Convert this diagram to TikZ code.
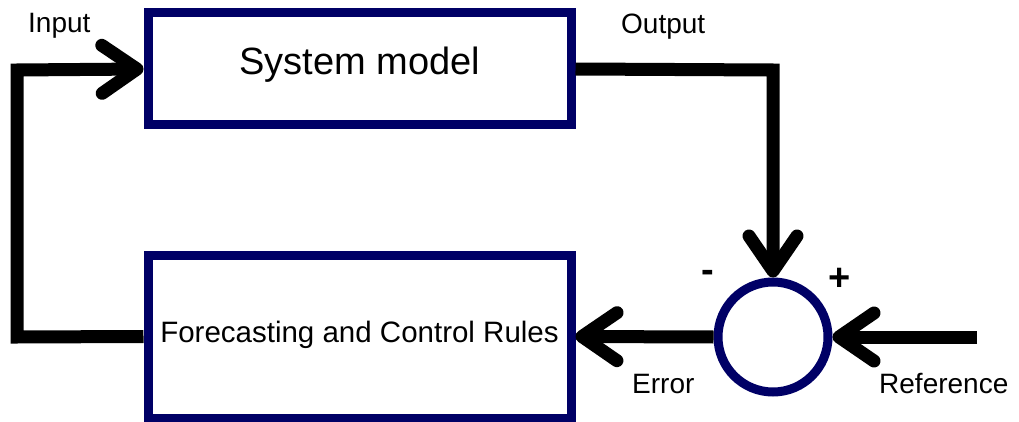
\documentclass[tikz,border=0pt]{standalone}
\usepackage{fontspec}
\setmainfont{Liberation Sans}
\usetikzlibrary{arrows.meta}
\definecolor{boxnavy}{RGB}{0,0,102}
\tikzset{
  block/.style={draw=boxnavy, line width=9pt, fill=white, rectangle, inner sep=0pt},
  sumjunction/.style={draw=boxnavy, line width=9pt, fill=white, circle, inner sep=0pt, minimum size=110pt},
  flow/.style={draw=black, line width=13pt, line join=miter,
    -{Straight Barb[length=35pt,width=48pt,round]}},
  lbl/.style={font=\fontsize{28pt}{32pt}\selectfont, inner sep=0pt, anchor=base west},
  sign/.style={font=\bfseries\fontsize{38pt}{42pt}\selectfont, inner sep=0pt}
}
\begin{document}
\begin{tikzpicture}[x=1pt, y=-1pt]
  \useasboundingbox (0,0) rectangle (1019,422);

  % blocks and summing junction
  \node[block, minimum width=423pt, minimum height=112pt,
        font=\fontsize{38pt}{42pt}\selectfont, text height=27pt, text depth=15pt]
        (sys) at (359.5,69) {System model};
  \node[block, minimum width=423pt, minimum height=163pt,
        font=\fontsize{29.5pt}{33pt}\selectfont, text height=21pt, text depth=9pt]
        (ctrl) at (359.5,336.5) {Forecasting and Control Rules};
  \node[sumjunction] (sum) at (773,337) {};

  % connectors
  \coordinate (ref) at (977,337);
  \draw[flow] (ctrl.west) -- (17,337) -- (17,70) -- (sys.west);
  \draw[flow] (sys.east) -- (773,70) -- (sum.north);
  \draw[flow] (sum.west) -- (ctrl.east);
  \draw[flow] (ref) -- (sum.east);

  % labels
  \node[lbl] (inlbl) at (28,33) {Input};
  \node[lbl] (outlbl) at (621,34) {Output};
  \node[lbl] (errlbl) at (632,393) {Error};
  \node[lbl] (reflbl) at (879,393) {Reference};
  \node[sign] (minus) at (708,276) {-};
  \node[sign] (plus) at (840,279) {+};
\end{tikzpicture}
\end{document}
